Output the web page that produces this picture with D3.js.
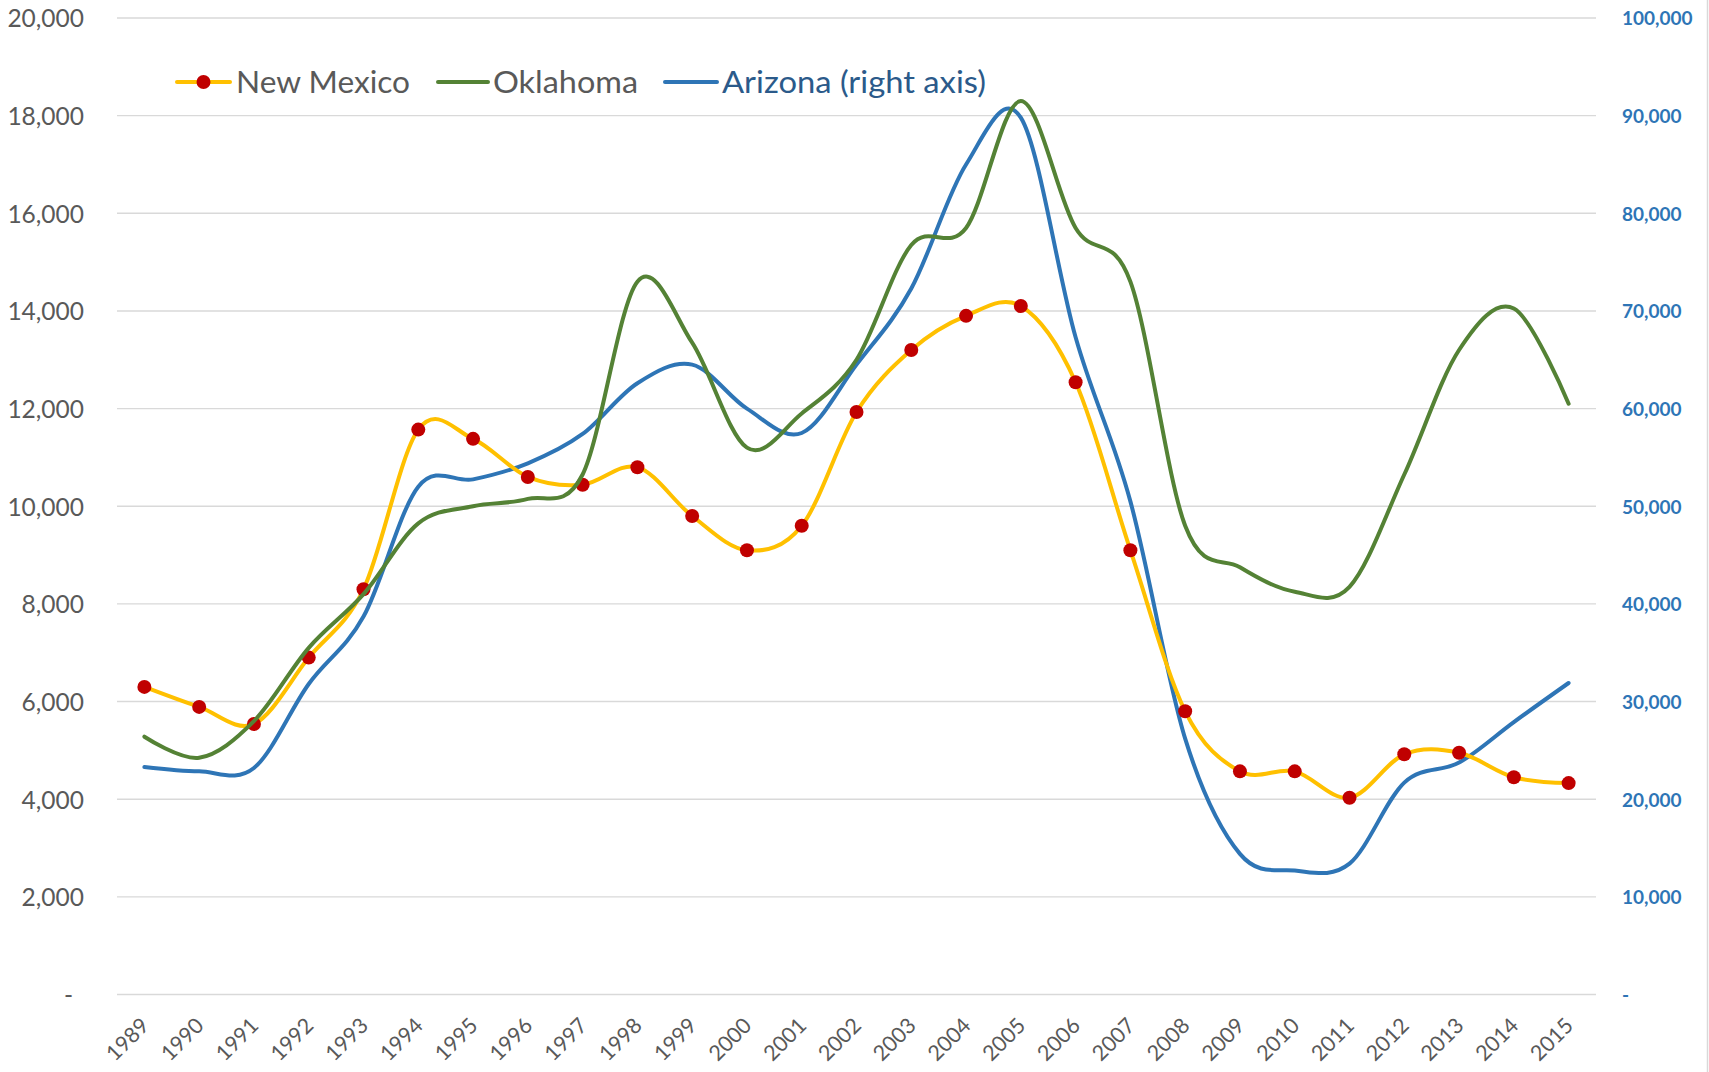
<!DOCTYPE html>
<html>
<head>
<meta charset="utf-8">
<script src="https://cdn.jsdelivr.net/npm/d3@7"></script>
<style>
  html, body { margin: 0; padding: 0; background: #fff; }
  svg { display: block; }
  text { font-family: Lato, "Open Sans", sans-serif; }
</style>
</head>
<body>
<svg id="chart" width="1709" height="1072"></svg>
<script>
const years = [1989,1990,1991,1992,1993,1994,1995,1996,1997,1998,1999,2000,2001,2002,2003,2004,2005,2006,2007,2008,2009,2010,2011,2012,2013,2014,2015];
const newMexico = [6300,5890,5540,6900,8300,11570,11380,10600,10440,10800,9800,9100,9600,11930,13200,13900,14100,12540,9100,5800,4570,4570,4030,4920,4950,4450,4330];
const oklahoma = [5280,4850,5600,7100,8200,9650,10000,10150,10650,14600,13350,11200,11900,13000,15350,15700,18300,15700,14600,9600,8750,8250,8350,10650,13200,14050,12100];
const arizona = [23300,22850,23200,31800,38700,52000,52750,54400,57400,62600,64500,60000,57500,64500,72300,85000,89800,67300,50500,26200,14400,12700,13400,21700,23750,27900,31900];
const leftTicks = [0,2000,4000,6000,8000,10000,12000,14000,16000,18000,20000];
const rightTicks = [0,10000,20000,30000,40000,50000,60000,70000,80000,90000,100000];
const seriesNames = ["New Mexico","Oklahoma","Arizona (right axis)"];

const C = { nm: "#FFC000", nmMarker: "#C00000", ok: "#548235", az: "#2E75B6", grid: "#D9D9D9", text: "#595959", azText: "#2B5A8A" };

const svg = d3.select("#chart");
const L = 117, R = 1596, T = 18, B = 994.5;

const x = d3.scaleBand().domain(years).range([L, R]);
const cx = d => x(d) + x.bandwidth() / 2;
const yL = d3.scaleLinear().domain([0, 20000]).range([B, T]);
const yR = d3.scaleLinear().domain([0, 100000]).range([B, T]);
const fmt = d3.format(",");

// right chart border
svg.append("line").attr("x1", 1707.5).attr("x2", 1707.5).attr("y1", 0).attr("y2", 1072)
  .attr("stroke", C.grid).attr("stroke-width", 1.5);

// gridlines
svg.append("g").selectAll("line").data(leftTicks).join("line")
  .attr("x1", L).attr("x2", R)
  .attr("y1", d => yL(d)).attr("y2", d => yL(d))
  .attr("stroke", C.grid).attr("stroke-width", 1.4);

// left axis
const gL = svg.append("g").attr("transform", `translate(84,0)`)
  .call(d3.axisLeft(yL).tickValues(leftTicks).tickSize(0).tickPadding(0)
    .tickFormat(d => d === 0 ? "-" : fmt(d)));
gL.select(".domain").remove();
gL.selectAll("text").attr("fill", C.text).style("font-size", "24.5px").attr("dy", "0.36em")
  .attr("dx", d => d === 0 ? -11 : 0);

// right axis
const gR = svg.append("g").attr("transform", `translate(1622,0)`)
  .call(d3.axisRight(yR).tickValues(rightTicks).tickSize(0).tickPadding(0)
    .tickFormat(d => d === 0 ? "-" : fmt(d)));
gR.select(".domain").remove();
gR.selectAll("text").attr("fill", C.az).style("font-size", "19px").style("font-weight", "bold").attr("dy", "0.36em");

// x axis labels
svg.append("g").selectAll("text").data(years).join("text")
  .attr("transform", d => `translate(${cx(d) + 6},1027) rotate(-45)`)
  .attr("text-anchor", "end")
  .attr("fill", C.text).style("font-size", "21.5px")
  .text(d => d);

const curve = d3.curveCardinal.tension(0);
const lineL = d3.line().x((d, i) => cx(years[i])).y(d => yL(d)).curve(curve);
const lineR = d3.line().x((d, i) => cx(years[i])).y(d => yR(d)).curve(curve);

// Arizona
svg.append("path").datum(arizona).attr("d", lineR).attr("fill", "none")
  .attr("stroke", C.az).attr("stroke-width", 4).attr("stroke-linejoin", "round").attr("stroke-linecap", "round");
// New Mexico
svg.append("path").datum(newMexico).attr("d", lineL).attr("fill", "none")
  .attr("stroke", C.nm).attr("stroke-width", 4).attr("stroke-linejoin", "round").attr("stroke-linecap", "round");
svg.append("g").selectAll("circle").data(newMexico).join("circle")
  .attr("cx", (d, i) => cx(years[i])).attr("cy", d => yL(d)).attr("r", 7)
  .attr("fill", C.nmMarker);
// Oklahoma
svg.append("path").datum(oklahoma).attr("d", lineL).attr("fill", "none")
  .attr("stroke", C.ok).attr("stroke-width", 4).attr("stroke-linejoin", "round").attr("stroke-linecap", "round");

// legend
const legend = svg.append("g");
const items = [
  { name: seriesNames[0], color: C.nm, x1: 177, x2: 230, tx: 236, w: 174, marker: true, tc: C.text },
  { name: seriesNames[1], color: C.ok, x1: 438, x2: 488, tx: 493, w: 145, marker: false, tc: C.text },
  { name: seriesNames[2], color: C.az, x1: 665, x2: 717, tx: 722, w: 264, marker: false, tc: C.azText }
];
const ly = 82;
items.forEach(it => {
  legend.append("line").attr("x1", it.x1).attr("x2", it.x2).attr("y1", ly).attr("y2", ly)
    .attr("stroke", it.color).attr("stroke-width", 4).attr("stroke-linecap", "round");
  if (it.marker) legend.append("circle").attr("cx", (it.x1 + it.x2) / 2).attr("cy", ly).attr("r", 7).attr("fill", C.nmMarker);
  legend.append("text").attr("x", it.tx).attr("y", 92.5).attr("fill", it.tc)
    .attr("textLength", it.w).attr("lengthAdjust", "spacingAndGlyphs")
    .style("font-size", "30px").text(it.name);
});
</script>
</body>
</html>
